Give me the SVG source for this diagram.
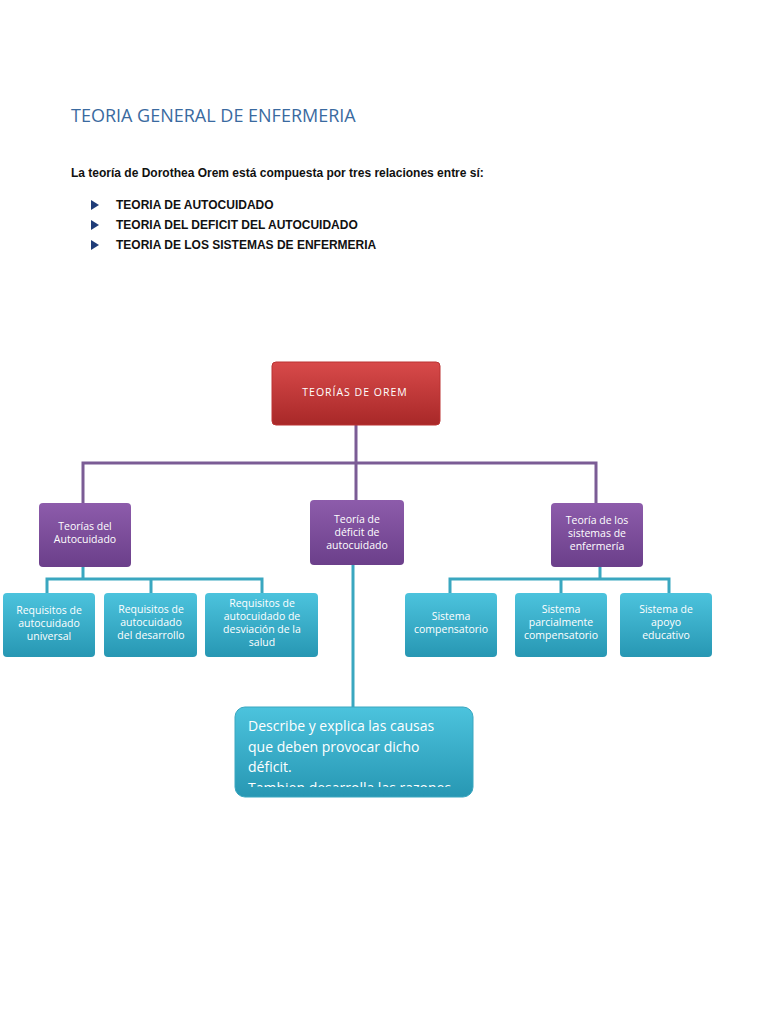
<svg xmlns="http://www.w3.org/2000/svg" width="768" height="1024" viewBox="0 0 768 1024">
<style>
.t{font-family:"Open Sans","Liberation Sans",sans-serif;font-size:10.5px;fill:#fff;text-anchor:middle}
.b{font-family:"Liberation Sans",sans-serif;font-size:12px;font-weight:bold;fill:#111}
.pl{stroke:#7b5c95;stroke-width:3;fill:none}
.tl{stroke:#3aa7c0;stroke-width:3;fill:none}
</style>
<defs>
<linearGradient id="r" x1="0" y1="0" x2="0" y2="1"><stop offset="0" stop-color="#d84a4a"/><stop offset="1" stop-color="#a82828"/></linearGradient>
<linearGradient id="p" x1="0" y1="0" x2="0" y2="1"><stop offset="0" stop-color="#8d5cab"/><stop offset="1" stop-color="#6b3f8a"/></linearGradient>
<linearGradient id="c" x1="0" y1="0" x2="0" y2="1"><stop offset="0" stop-color="#4cc3dd"/><stop offset="1" stop-color="#2797b3"/></linearGradient>
<clipPath id="clip"><rect x="235" y="707" width="238" height="80"/></clipPath>
</defs>
<rect width="768" height="1024" fill="#fff"/>
<text x="71" y="122" font-family="'Open Sans','Liberation Sans',sans-serif" font-size="18" fill="#3a6aa0">TEORIA GENERAL DE ENFERMERIA</text>
<text x="71" y="177" class="b">La teoría de Dorothea Orem está compuesta por tres relaciones entre sí:</text>
<g fill="#1f3c78"><polygon points="91,200 91,210 99,205"/><polygon points="91,220 91,230 99,225"/><polygon points="91,240 91,250 99,245"/></g>
<text x="116" y="209" class="b">TEORIA DE AUTOCUIDADO</text>
<text x="116" y="229" class="b">TEORIA DEL DEFICIT DEL AUTOCUIDADO</text>
<text x="116" y="249" class="b">TEORIA DE LOS SISTEMAS DE ENFERMERIA</text>
<g id="connectors">
<path class="pl" d="M356 425V500M83 503V463H596V503"/>
<path class="tl" d="M353 565V707M83 567V579M47 593V579H262V593M151 579V593M600 567V579M450 593V579H669V593M561 579V593"/>
</g>
<g id="root"><rect x="272" y="362" width="168" height="63" rx="4" fill="url(#r)" stroke="#b33"/><text x="355" y="396" class="t" letter-spacing="1">TEORÍAS DE OREM</text></g>
<g id="n1"><rect x="39" y="503" width="92" height="64" rx="4" fill="url(#p)"/><text class="t"><tspan x="85" y="530">Teorías del</tspan><tspan x="85" y="543">Autocuidado</tspan></text></g>
<g id="n2"><rect x="310" y="500" width="94" height="65" rx="4" fill="url(#p)"/><text class="t"><tspan x="357" y="523">Teoría de</tspan><tspan x="357" y="536">déficit de</tspan><tspan x="357" y="549">autocuidado</tspan></text></g>
<g id="n3"><rect x="551" y="503" width="92" height="64" rx="4" fill="url(#p)"/><text class="t"><tspan x="597" y="524">Teoría de los</tspan><tspan x="597" y="537">sistemas de</tspan><tspan x="597" y="550">enfermería</tspan></text></g>
<g id="a1"><rect x="3" y="593" width="92" height="64" rx="4" fill="url(#c)"/><text class="t"><tspan x="49" y="614">Requisitos de</tspan><tspan x="49" y="627">autocuidado</tspan><tspan x="49" y="640">universal</tspan></text></g>
<g id="a2"><rect x="104" y="593" width="93" height="64" rx="4" fill="url(#c)"/><text class="t"><tspan x="151" y="613">Requisitos de</tspan><tspan x="151" y="626">autocuidado</tspan><tspan x="151" y="639">del desarrollo</tspan></text></g>
<g id="a3"><rect x="205" y="593" width="113" height="64" rx="4" fill="url(#c)"/><text class="t"><tspan x="262" y="607">Requisitos de</tspan><tspan x="262" y="620">autocuidado de</tspan><tspan x="262" y="633">desviación de la</tspan><tspan x="262" y="646">salud</tspan></text></g>
<g id="s1"><rect x="405" y="593" width="92" height="64" rx="4" fill="url(#c)"/><text class="t"><tspan x="451" y="620">Sistema</tspan><tspan x="451" y="633">compensatorio</tspan></text></g>
<g id="s2"><rect x="515" y="593" width="92" height="64" rx="4" fill="url(#c)"/><text class="t"><tspan x="561" y="613">Sistema</tspan><tspan x="561" y="626">parcialmente</tspan><tspan x="561" y="639">compensatorio</tspan></text></g>
<g id="s3"><rect x="620" y="593" width="92" height="64" rx="4" fill="url(#c)"/><text class="t"><tspan x="666" y="613">Sistema de</tspan><tspan x="666" y="626">apoyo</tspan><tspan x="666" y="639">educativo</tspan></text></g>
<g id="d"><rect x="235" y="707" width="238" height="90" rx="10" fill="url(#c)" stroke="#3aa7c0"/>
<g clip-path="url(#clip)"><text font-family="'Open Sans','Liberation Sans',sans-serif" font-size="14" fill="#fff"><tspan x="248" y="731">Describe y explica las causas</tspan><tspan x="248" y="752">que deben provocar dicho</tspan><tspan x="248" y="772">déficit.</tspan><tspan x="248" y="793">Tambien desarrolla las razones</tspan></text></g></g>
</svg>
